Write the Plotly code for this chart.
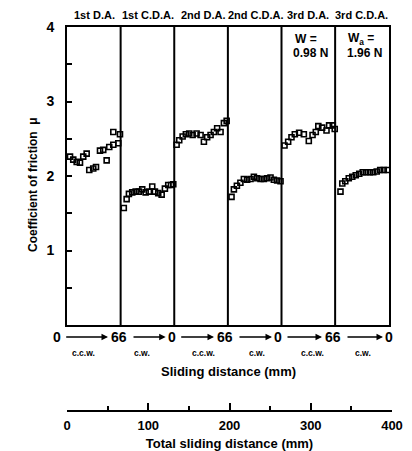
import plotly.graph_objects as go

# ---------------- data ----------------
stage_labels = ["1st D.A.", "1st C.D.A.", "2nd D.A.", "2nd C.D.A.", "3rd D.A.", "3rd C.D.A."]
stage_bounds = [0, 66, 132, 198, 264, 330, 396]          # total sliding distance (mm)
stroke_labels = ["0", "66", "0", "66", "0", "66", "0"]
direction_labels = ["c.c.w.", "c.w.", "c.c.w.", "c.w.", "c.c.w.", "c.w."]
total_ticks = [0, 100, 200, 300, 400]

dist_1 = [3.7, 7.7, 11.9, 16.0, 20.0, 24.2, 27.4, 32.3, 35.7, 40.6, 44.6, 48.8, 52.0, 57.0, 63.1, 57.0, 65.2]
mu_1 = [2.26, 2.22, 2.19, 2.18, 2.26, 2.30, 2.08, 2.10, 2.12, 2.34, 2.35, 2.21, 2.39, 2.42, 2.44, 2.59, 2.56]

dist_2 = [69.9, 73.4, 76.2, 80.3, 84.5, 88.5, 92.6, 96.8, 100.8, 104.9, 108.2, 112.3, 116.5, 120.5, 124.6, 128.0, 130.8]
mu_2 = [1.57, 1.69, 1.76, 1.78, 1.79, 1.79, 1.82, 1.78, 1.79, 1.86, 1.79, 1.77, 1.75, 1.83, 1.88, 1.88, 1.89]

dist_3 = [134.9, 138.1, 142.3, 146.3, 150.4, 154.6, 159.5, 164.4, 168.5, 172.5, 176.7, 180.8, 184.8, 189.0, 193.1, 196.5]
mu_3 = [2.42, 2.48, 2.53, 2.56, 2.57, 2.55, 2.57, 2.55, 2.46, 2.52, 2.55, 2.59, 2.64, 2.59, 2.71, 2.74]

dist_4 = [202.5, 205.4, 209.1, 213.4, 217.7, 221.7, 225.9, 230.0, 234.0, 238.2, 242.3, 246.3, 250.5, 254.6, 258.6, 262.8]
mu_4 = [1.72, 1.82, 1.87, 1.91, 1.96, 1.95, 1.96, 1.99, 1.97, 1.96, 1.96, 1.97, 1.98, 1.95, 1.94, 1.93]

dist_5 = [267.7, 272.2, 276.3, 280.4, 285.7, 291.5, 297.6, 302.2, 306.2, 309.3, 314.0, 319.4, 322.6, 327.1, 329.5]
mu_5 = [2.41, 2.46, 2.52, 2.56, 2.58, 2.56, 2.47, 2.55, 2.59, 2.67, 2.65, 2.61, 2.68, 2.68, 2.63]

dist_6 = [336.6, 338.8, 342.5, 346.8, 351.1, 355.4, 359.7, 364.0, 368.3, 372.6, 376.9, 381.2, 385.5, 389.8, 394.5]
mu_6 = [1.79, 1.90, 1.93, 1.97, 1.99, 2.01, 2.03, 2.05, 2.05, 2.05, 2.05, 2.06, 2.08, 2.08, 2.08]

# ---------------- figure ----------------
FONT = "Liberation Sans Narrow, Liberation Sans, Arial, sans-serif"
BOLD = dict(family=FONT, color="black", weight="bold")

# the page body adds an 8px offset; size the figure so it fills the window
OFF = 8
PAGE_W, PAGE_H = 412, 451
W, H = PAGE_W - OFF, PAGE_H - OFF
ML, MT = 67 - OFF, 27 - OFF
MR = W - (392 - OFF)
MB = H - (410 - OFF)
plot_w = W - ML - MR
plot_h = H - MT - MB
frame_bottom_px = 325
y_dom_lo = (410 - frame_bottom_px) / plot_h


def px_to_paper(px):   # page x -> paper x
    return (px - 67) / plot_w


def py_to_paper(py):   # page y -> paper y
    return (410 - py) / plot_h


fig = go.Figure()

all_d = [dist_1, dist_2, dist_3, dist_4, dist_5, dist_6]
all_m = [mu_1, mu_2, mu_3, mu_4, mu_5, mu_6]
for d, m in zip(all_d, all_m):
    fig.add_trace(go.Scatter(
        x=d, y=m, mode="markers", xaxis="x", yaxis="y",
        marker=dict(symbol="square-open", size=5, color="black",
                    line=dict(width=1.6, color="black")),
        showlegend=False, hoverinfo="x+y", cliponaxis=False))

# dummy trace to create the lower (total distance) axis
fig.add_trace(go.Scatter(x=[0], y=[0], xaxis="x2", yaxis="y2", mode="markers",
                         marker=dict(opacity=0), showlegend=False, hoverinfo="skip"))

shapes = []
for b in stage_bounds[1:-1]:
    shapes.append(dict(type="line", xref="x", yref="y", x0=b, x1=b, y0=0, y1=4,
                       line=dict(color="black", width=2)))


def note(px, py, text, size, xanchor="center", angle=0):
    return dict(x=px_to_paper(px), y=py_to_paper(py), xref="paper", yref="paper",
                text=text, showarrow=False, xanchor=xanchor, yanchor="middle",
                textangle=angle, font=dict(BOLD, size=size))


annotations = []
# stage labels on top
stage_px = [94, 148, 203, 256, 308, 361]
for lab, px in zip(stage_labels, stage_px):
    annotations.append(note(px, 15, lab, 11))

# stroke labels 0 -> 66 -> 0 ...
stroke_px = [56.7, 119, 171.7, 225, 278, 333, 389]
stroke_half = {"0": 4, "66": 9}
for lab, px in zip(stroke_labels, stroke_px):
    annotations.append(note(px, 337, lab, 14))
for i in range(len(stroke_labels) - 1):
    tail = stroke_px[i] + stroke_half[stroke_labels[i]] + 4
    head = stroke_px[i + 1] - stroke_half[stroke_labels[i + 1]] - 2
    annotations.append(dict(x=px_to_paper(head), y=py_to_paper(337), xref="paper", yref="paper",
                            ax=tail - head, ay=0, axref="pixel", ayref="pixel",
                            text="", showarrow=True, arrowhead=2, arrowsize=1,
                            arrowwidth=1.3, arrowcolor="black"))
# direction labels
dir_px = [83, 142, 203, 257, 312, 363]
for lab, px in zip(direction_labels, dir_px):
    annotations.append(note(px, 353, lab, 8.5))

annotations.append(note(228, 371, "Sliding distance (mm)", 13))

# y axis title
annotations.append(note(33, 185, "Coefficient of friction  \u03bc", 12, angle=-90))

# load notes
annotations.append(note(293, 39, "W =", 12, xanchor="left"))
annotations.append(note(291, 53, "0.98 N", 12, xanchor="left"))
annotations.append(note(346, 39, "W<sub>a</sub> =", 12, xanchor="left"))
annotations.append(note(345, 53, "1.96 N", 12, xanchor="left"))

fig.update_layout(
    width=W, height=H,
    margin=dict(l=ML, r=MR, t=MT, b=MB, autoexpand=False),
    paper_bgcolor="white", plot_bgcolor="white",
    font=dict(family=FONT, color="black"),
    showlegend=False,
    shapes=shapes,
    annotations=annotations,
    xaxis=dict(domain=[0, 396 / 400], range=[0, 396], anchor="y",
               showline=True, mirror=True, linecolor="black", linewidth=2,
               showgrid=False, zeroline=False, ticks="", showticklabels=False),
    yaxis=dict(domain=[y_dom_lo, 1], range=[0, 4], anchor="x",
               showline=True, mirror=True, linecolor="black", linewidth=2,
               showgrid=False, zeroline=False,
               tickvals=[1, 2, 3, 4], ticks="inside", ticklen=5, tickwidth=1.5,
               tickcolor="black", ticklabelstandoff=8,
               tickfont=dict(BOLD, size=14),
               minor=dict(tickvals=[0.5, 1.5, 2.5, 3.5], ticks="inside",
                          ticklen=5, tickwidth=1.5, tickcolor="black")),
    xaxis2=dict(domain=[0, 1], range=[0, 400], anchor="y2",
                showline=True, linecolor="black", linewidth=2,
                showgrid=False, zeroline=False,
                tickvals=total_ticks, ticks="inside", ticklen=7, tickwidth=1.5,
                tickcolor="black", tickfont=dict(BOLD, size=13),
                ticklabelstandoff=2,
                minor=dict(dtick=50, tick0=0, ticks="inside", ticklen=4,
                           tickwidth=1.5, tickcolor="black"),
                title=dict(text="Total sliding distance (mm)",
                           font=dict(BOLD, size=13), standoff=12)),
    yaxis2=dict(domain=[0, 0.005], range=[0, 1], anchor="x2", visible=False),
)

fig.write_html("out.html")
